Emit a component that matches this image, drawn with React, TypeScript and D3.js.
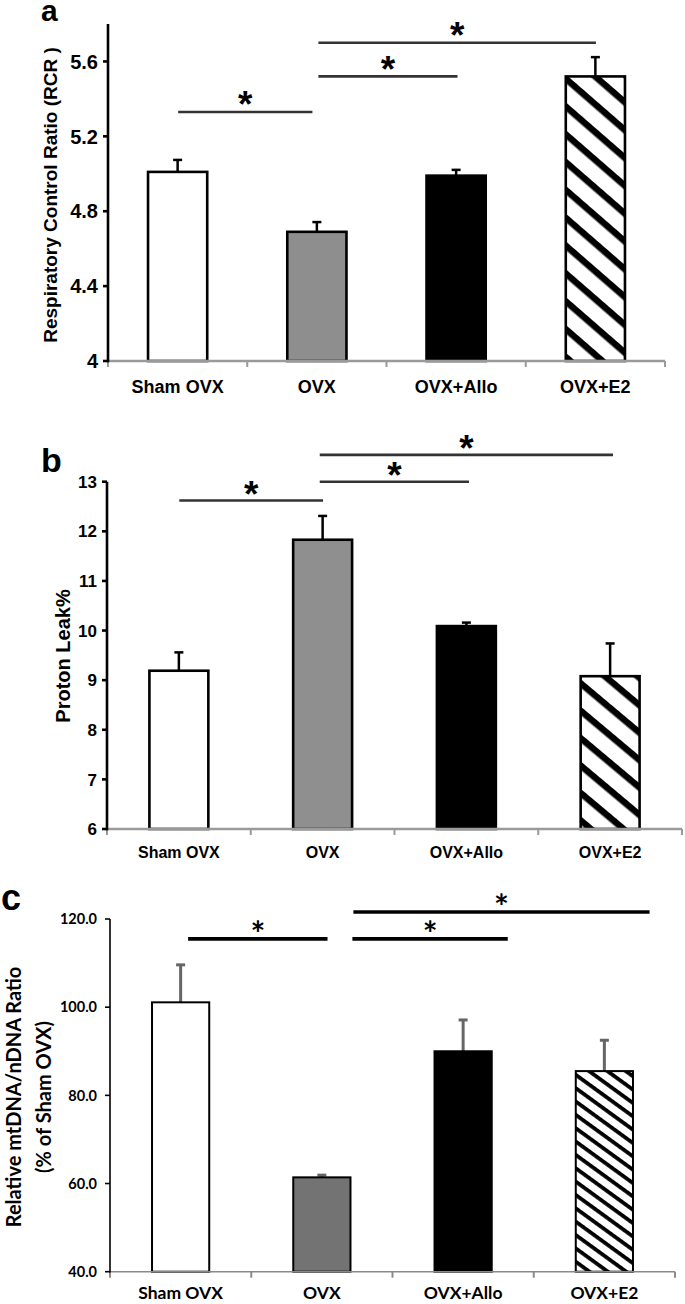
import React from "react";
import * as d3 from "d3";

const categories = ["Sham OVX", "OVX", "OVX+Allo", "OVX+E2"];

const rcrMean = [5.01, 4.69, 4.99, 5.52];
const rcrErr = [0.064, 0.052, 0.031, 0.103];
const rcrTicks = [4, 4.4, 4.8, 5.2, 5.6];
const rcrSig = [
  { from: 0.004, to: 0.968, level: 5.33 },
  { from: 1.011, to: 2.01, level: 5.52 },
  { from: 1.011, to: 3.004, level: 5.7 },
];

const leakMean = [9.19, 11.83, 10.09, 9.08];
const leakErr = [0.37, 0.48, 0.07, 0.66];
const leakTicks = [6, 7, 8, 9, 10, 11, 12, 13];
const leakSig = [
  { from: 0.003, to: 1.003, level: 12.62 },
  { from: 0.98, to: 2.018, level: 13.0 },
  { from: 0.98, to: 3.02, level: 13.54 },
];

const mtMean = [101.1, 61.4, 90.0, 85.5];
const mtErr = [8.5, 0.5, 7.1, 7.0];
const mtTicks = [40, 60, 80, 100, 120];
const mtSig = [
  { from: 0.053, to: 1.04, level: 115.5 },
  { from: 1.216, to: 2.316, level: 115.5 },
  { from: 1.223, to: 3.32, level: 121.6 },
];

type Sig = { from: number; to: number; level: number };

type PanelCfg = {
  letter: string;
  letterX: number;
  letterY: number;
  letterSize: number;
  letterFont: string;
  means: number[];
  errs: number[];
  ticks: number[];
  tickFmt: (v: number) => string;
  sig: Sig[];
  domain: [number, number];
  left: number;
  right: number;
  top: number;
  bottom: number;
  font: string;
  tickSize: number;
  tickLabelX: number;
  xLabelY: number;
  xLabelSize: number;
  yLabels: { text: string; x: number }[];
  yLabelY: number;
  yLabelSize: number;
  fills: string[];
  barFrac: number;
  barStroke: number;
  axisW: number;
  xAxisColor: string;
  errColor: string;
  errW: number;
  sigColor: string;
  sigW: number;
  starSize: number;
  starOff: number;
};

const FA = "'Liberation Sans', Arial, sans-serif";
const FC = "Lato, 'Open Sans', sans-serif";

const panels: PanelCfg[] = [
  {
    letter: "a", letterX: 41, letterY: 21, letterSize: 30, letterFont: FA,
    means: rcrMean, errs: rcrErr, ticks: rcrTicks, tickFmt: (v) => String(v), sig: rcrSig,
    domain: [4, 5.8], left: 108, right: 665, top: 24, bottom: 361,
    font: FA, tickSize: 20, tickLabelX: 98, xLabelY: 393, xLabelSize: 18,
    yLabels: [{ text: "Respiratory Control Ratio (RCR )", x: 57 }], yLabelY: 195, yLabelSize: 19,
    fills: ["#ffffff", "#8e8e8e", "#000000", "url(#hatchA)"], barFrac: 0.425, barStroke: 2.6,
    axisW: 2.6, xAxisColor: "#9a9a9a", errColor: "#000", errW: 2.5, sigColor: "#333", sigW: 2.6,
    starSize: 37, starOff: 16,
  },
  {
    letter: "b", letterX: 41, letterY: 472, letterSize: 34, letterFont: FA,
    means: leakMean, errs: leakErr, ticks: leakTicks, tickFmt: (v) => String(v), sig: leakSig,
    domain: [6, 13], left: 107, right: 682, top: 481.7, bottom: 829,
    font: FA, tickSize: 17, tickLabelX: 97, xLabelY: 858, xLabelSize: 16,
    yLabels: [{ text: "Proton Leak%", x: 70 }], yLabelY: 656, yLabelSize: 20,
    fills: ["#ffffff", "#8f8f8f", "#000000", "url(#hatchB)"], barFrac: 0.41, barStroke: 2.6,
    axisW: 2.6, xAxisColor: "#9a9a9a", errColor: "#000", errW: 2.5, sigColor: "#333", sigW: 2.6,
    starSize: 37, starOff: 15,
  },
  {
    letter: "c", letterX: 1, letterY: 910, letterSize: 36, letterFont: FA,
    means: mtMean, errs: mtErr, ticks: mtTicks, tickFmt: (v) => v.toFixed(1), sig: mtSig,
    domain: [40, 120], left: 110, right: 675, top: 919, bottom: 1271.7,
    font: FC, tickSize: 14.5, tickLabelX: 97, xLabelY: 1299, xLabelSize: 17.5,
    yLabels: [
      { text: "Relative mtDNA/nDNA Ratio", x: 21 },
      { text: "(% of Sham OVX)", x: 51 },
    ],
    yLabelY: 1097, yLabelSize: 20,
    fills: ["#ffffff", "#737373", "#000000", "url(#hatchC)"], barFrac: 0.405, barStroke: 2,
    axisW: 1.6, xAxisColor: "#8a8a8a", errColor: "#666", errW: 3, sigColor: "#000", sigW: 3.6,
    starSize: 35, starOff: 13,
  },
];

function Panel({ p }: { p: PanelCfg }) {
  const y = d3.scaleLinear().domain(p.domain).range([p.bottom, p.top]);
  const x = d3.scaleBand<string>().domain(categories).range([p.left, p.right]).paddingInner(0).paddingOuter(0);
  const bw = x.bandwidth();
  const pos = d3.scaleLinear().domain([-0.5, categories.length - 0.5]).range([p.left, p.right]);
  const barW = bw * p.barFrac;
  const capW = 9;
  const boundaries = d3.range(categories.length + 1).map((i) => p.left + i * bw);
  return (
    <g>
      <text x={p.letterX} y={p.letterY} fontFamily={p.letterFont} fontWeight="bold" fontSize={p.letterSize} fill="#000">
        {p.letter}
      </text>
      {p.sig.map((s, i) => {
        const x1 = pos(s.from);
        const x2 = pos(s.to);
        const ly = y(s.level);
        return (
          <g key={"s" + i}>
            <line x1={x1} x2={x2} y1={ly} y2={ly} stroke={p.sigColor} strokeWidth={p.sigW} />
            <text
              x={(x1 + x2) / 2}
              y={ly - p.starOff + p.starSize * 0.575}
              textAnchor="middle"
              fontFamily={p.font}
              fontWeight="bold"
              fontSize={p.starSize}
              fill="#000"
            >
              *
            </text>
          </g>
        );
      })}
      {categories.map((c, i) => {
        const cx = (x(c) as number) + bw / 2;
        const top = y(p.means[i]);
        const et = y(p.means[i] + p.errs[i]);
        return (
          <g key={"b" + i}>
            <line x1={cx} x2={cx} y1={top} y2={et} stroke={p.errColor} strokeWidth={p.errW} />
            <line x1={cx - capW / 2} x2={cx + capW / 2} y1={et} y2={et} stroke={p.errColor} strokeWidth={p.errW} />
            <rect
              x={cx - barW / 2}
              y={top}
              width={barW}
              height={p.bottom - top}
              fill={p.fills[i]}
              stroke="#000"
              strokeWidth={p.barStroke}
            />
          </g>
        );
      })}
      <line x1={p.left} x2={p.right} y1={p.bottom} y2={p.bottom} stroke={p.xAxisColor} strokeWidth={p.axisW} />
      {boundaries.map((bx, i) => (
        <line key={"xt" + i} x1={bx} x2={bx} y1={p.bottom} y2={p.bottom + 6} stroke={p.xAxisColor} strokeWidth={2} />
      ))}
      {categories.map((c, i) => (
        <text
          key={"xl" + i}
          x={(x(c) as number) + bw / 2}
          y={p.xLabelY}
          textAnchor="middle"
          fontFamily={p.font}
          fontWeight="bold"
          fontSize={p.xLabelSize}
          fill="#000"
        >
          {c}
        </text>
      ))}
      <line x1={p.left} x2={p.left} y1={p.top} y2={p.bottom + p.axisW / 2} stroke="#000" strokeWidth={p.axisW} />
      {p.ticks.map((t, i) => (
        <g key={"yt" + i}>
          <line x1={p.left - 5} x2={p.left} y1={y(t)} y2={y(t)} stroke="#000" strokeWidth={p.axisW} />
          <text
            x={p.tickLabelX}
            y={y(t)}
            dy="0.36em"
            textAnchor="end"
            fontFamily={p.font}
            fontWeight="bold"
            fontSize={p.tickSize}
            fill="#000"
          >
            {p.tickFmt(t)}
          </text>
        </g>
      ))}
      {p.yLabels.map((l, i) => (
        <text
          key={"yl" + i}
          transform={`translate(${l.x},${p.yLabelY}) rotate(-90)`}
          textAnchor="middle"
          fontFamily={p.font}
          fontWeight="bold"
          fontSize={p.yLabelSize}
          fill="#000"
        >
          {l.text}
        </text>
      ))}
    </g>
  );
}

export default function App() {
  return (
    <svg
      width={685}
      height={1304}
      viewBox="0 0 685 1304"
      style={{ position: "absolute", left: 0, top: 0, background: "#fff" }}
    >
      <defs>
        <pattern id="hatchA" patternUnits="userSpaceOnUse" width={21} height={21} patternTransform="rotate(41)">
          <rect width={21} height={21} fill="#fff" />
          <rect width={21} height={6.5} fill="#000" />
        </pattern>
        <pattern id="hatchB" patternUnits="userSpaceOnUse" width={21} height={21} patternTransform="rotate(40)">
          <rect width={21} height={21} fill="#fff" />
          <rect width={21} height={6.5} fill="#000" />
        </pattern>
        <pattern id="hatchC" patternUnits="userSpaceOnUse" width={10.8} height={10.8} patternTransform="rotate(36)">
          <rect width={10.8} height={10.8} fill="#fff" />
          <rect width={10.8} height={3.8} fill="#000" />
        </pattern>
      </defs>
      <rect width={685} height={1304} fill="#fff" />
      {panels.map((p, i) => (
        <Panel key={i} p={p} />
      ))}
    </svg>
  );
}
